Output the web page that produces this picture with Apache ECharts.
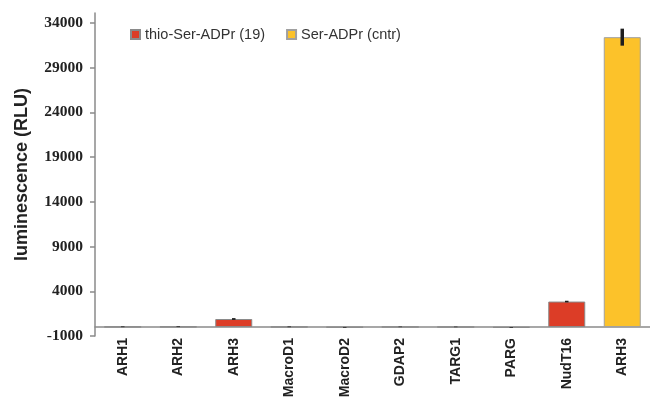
<!DOCTYPE html>
<html>
<head>
<meta charset="utf-8">
<script src="https://cdn.jsdelivr.net/npm/echarts@6/dist/echarts.min.js"></script>
<style>html,body{margin:0;padding:0;background:#fff;}#c{width:650px;height:397px;}</style>
</head>
<body>
<div id="c"></div>
<script>
var categories = ['ARH1','ARH2','ARH3','MacroD1','MacroD2','GDAP2','TARG1','PARG','NudT16','ARH3 '];
var thioValues = [30, 40, 900, 25, -30, 20, 15, -60, 2850, null];
var thioErrors = [40, 40, 100, 40, 40, 30, 30, 40, 90, null];
var serValues  = [null, null, null, null, null, null, null, null, null, 32400];
var serErrors  = [null, null, null, null, null, null, null, null, null, 950];
var yTicks = [-1000, 4000, 9000, 14000, 19000, 24000, 29000, 34000];

function errData(vals, errs) {
  var out = [];
  for (var i = 0; i < vals.length; i++) {
    if (vals[i] != null) out.push([i, vals[i], errs[i]]);
  }
  return out;
}
function renderErr(params, api) {
  var x = api.value(0), v = api.value(1), e = api.value(2);
  var p1 = api.coord([x, v + e]);
  var p2 = api.coord([x, v - e]);
  return {
    type: 'line',
    shape: {x1: p1[0], y1: p1[1], x2: p2[0], y2: p2[1]},
    style: {stroke: '#1e1e1e', lineWidth: 3.5}
  };
}

var chart = echarts.init(document.getElementById('c'));
chart.setOption({
  animation: false,
  backgroundColor: '#fff',
  grid: {left: 95, right: 0, top: 13, bottom: 61, containLabel: false, outerBoundsMode: 'none'},
  legend: {
    left: 125, top: 22, itemWidth: 9, itemHeight: 9, itemGap: 21,
    icon: 'rect',
    textStyle: {fontFamily: 'Liberation Sans, Arial', fontSize: 14.5, color: '#333'},
    data: ['thio-Ser-ADPr (19)', 'Ser-ADPr (cntr)']
  },
  xAxis: {
    type: 'category',
    data: categories,
    axisLine: {onZero: true, lineStyle: {color: '#8a8a8a', width: 1.5}},
    axisTick: {show: false},
    axisLabel: {
      interval: 0, rotate: 90, margin: 2,
      fontFamily: 'Liberation Sans, Arial', fontWeight: 'bold', fontSize: 14, color: '#222',
      formatter: function (v) { return v.trim(); }
    }
  },
  yAxis: {
    type: 'value',
    min: -1000, max: 35100,
    name: 'luminescence (RLU)',
    nameLocation: 'middle',
    nameGap: 64,
    nameTextStyle: {fontFamily: 'Liberation Sans, Arial', fontWeight: 'bold', fontSize: 18, color: '#222'},
    splitLine: {show: false},
    axisLine: {show: true, lineStyle: {color: '#8a8a8a', width: 1.5}},
    axisTick: {show: true, length: 5, customValues: yTicks, lineStyle: {color: '#8a8a8a', width: 1.5}},
    axisLabel: {
      customValues: yTicks, margin: 12,
      fontFamily: 'Liberation Serif, Times New Roman', fontWeight: 'bold', fontSize: 15.5, color: '#222',
      formatter: function (v) { return String(v); }
    }
  },
  series: [
    {
      name: 'thio-Ser-ADPr (19)', type: 'bar', data: thioValues, barWidth: 37, barGap: '-100%',
      itemStyle: {color: '#dc3d27', borderColor: '#8a8a8a', borderWidth: 1}
    },
    {
      name: 'Ser-ADPr (cntr)', type: 'bar', data: serValues, barWidth: 37, barGap: '-100%',
      itemStyle: {color: '#fcc22a', borderColor: '#a0a0a0', borderWidth: 1}
    },
    {
      type: 'custom', renderItem: renderErr, data: errData(thioValues, thioErrors), z: 5,
      encode: {x: 0, y: 1}
    },
    {
      type: 'custom', renderItem: renderErr, data: errData(serValues, serErrors), z: 5,
      encode: {x: 0, y: 1}
    }
  ]
});
</script>
</body>
</html>
